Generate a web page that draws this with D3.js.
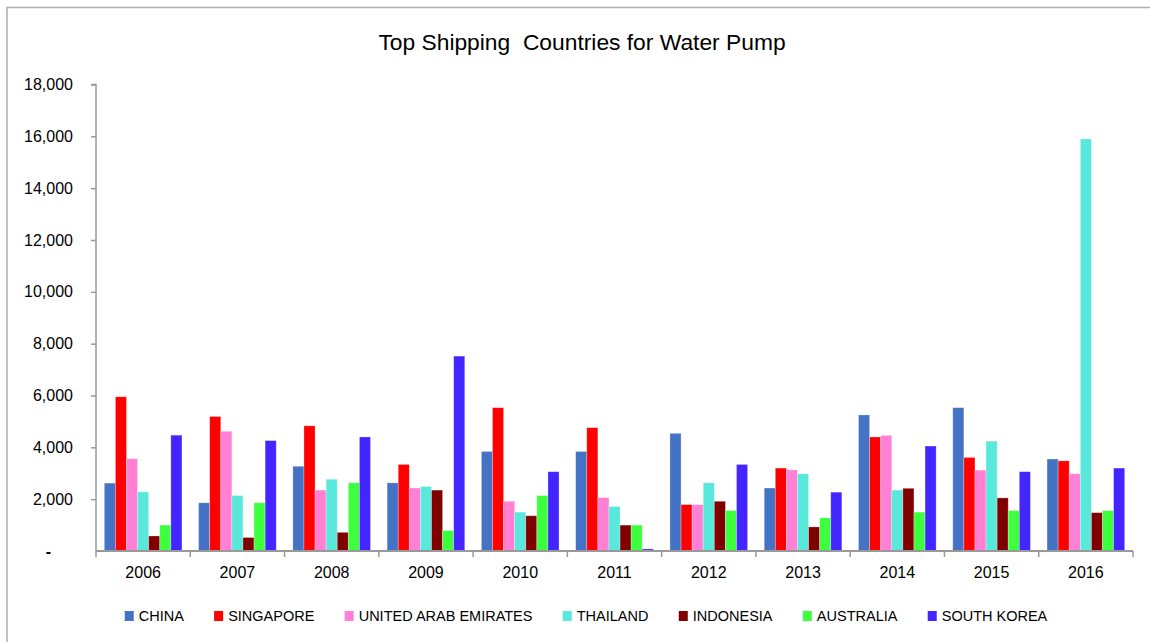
<!DOCTYPE html>
<html>
<head>
<meta charset="utf-8">
<script src="https://cdn.jsdelivr.net/npm/d3@7"></script>
<style>
  html, body { margin: 0; padding: 0; background: #fff; }
  svg { display: block; }
  text { font-family: "Liberation Sans", Arial, sans-serif; fill: #000; }
</style>
</head>
<body>
<svg id="chart" width="1150" height="642"></svg>
<script>
const years = ["2006","2007","2008","2009","2010","2011","2012","2013","2014","2015","2016"];
const seriesNames = ["CHINA","SINGAPORE","UNITED ARAB EMIRATES","THAILAND","INDONESIA","AUSTRALIA","SOUTH KOREA"];
const seriesColors = ["#4472C4","#FF0000","#FF80D5","#58E8DC","#800000","#3DFF3D","#4326FF"];

const china      = [2620, 1860, 3270, 2630, 3840, 3840, 4540, 2430, 5250, 5530, 3550];
const singapore  = [5950, 5190, 4830, 3340, 5530, 4760, 1790, 3200, 4400, 3610, 3480];
const uae        = [3560, 4620, 2350, 2430, 1920, 2060, 1790, 3130, 4460, 3120, 2980];
const thailand   = [2280, 2140, 2770, 2490, 1500, 1720, 2630, 2980, 2350, 4240, 15900];
const indonesia  = [580, 520, 720, 2350, 1360, 1000, 1920, 930, 2420, 2050, 1480];
const australia  = [1000, 1860, 2630, 790, 2140, 1000, 1560, 1280, 1500, 1560, 1560];
const southKorea = [4470, 4260, 4400, 7520, 3060, 80, 3340, 2270, 4050, 3060, 3200];

const seriesValues = [china, singapore, uae, thailand, indonesia, australia, southKorea];
const yTicks = [0, 2000, 4000, 6000, 8000, 10000, 12000, 14000, 16000, 18000];
const titleText = "Top Shipping\u00A0 Countries for Water Pump";

const svg = d3.select("#chart");

// frame (top and left edges)
svg.append("path").attr("d", "M7,1000 L7,7.5 L1150,7.5")
  .attr("fill", "none").attr("stroke", "#b0b0b0").attr("stroke-width", 1.5);

const x0 = d3.scaleBand().domain(years).range([96, 1133]).paddingInner(0).paddingOuter(0);
const x1 = d3.scaleBand().domain(seriesNames).range([0, x0.bandwidth()]).paddingInner(0).paddingOuter(0.75);
const y = d3.scaleLinear().domain([0, 18000]).range([551, 84.5]);

// title
svg.append("text").attr("x", 582).attr("y", 50).attr("text-anchor", "middle")
  .style("font-size", "22.8px").text(titleText);

// bars
const groups = svg.append("g").selectAll("g").data(years).join("g")
  .attr("transform", d => `translate(${x0(d)},0)`);
groups.selectAll("rect")
  .data((yr, i) => seriesNames.map((s, j) => ({ s, j, v: seriesValues[j][i] })))
  .join("rect")
  .attr("x", d => x1(d.s))
  .attr("width", x1.bandwidth())
  .attr("y", d => y(d.v))
  .attr("height", d => y(0) - y(d.v))
  .attr("fill", (d) => seriesColors[d.j])
  .attr("stroke", "#ffffff").attr("stroke-opacity", 0.35).attr("stroke-width", 0.8);

// y axis
const yAxis = d3.axisLeft(y).tickValues(yTicks).tickSize(5).tickPadding(18)
  .tickFormat(d => d === 0 ? "-" : d3.format(",")(d));
const yg = svg.append("g").attr("transform", "translate(96,0)").call(yAxis);
yg.select(".domain").attr("stroke", "#999").attr("stroke-width", 1.5).attr("d", "M-5,84.5H0V551");
yg.selectAll(".tick line").attr("stroke", "#999").attr("stroke-width", 1.5);
yg.selectAll(".tick text").style("font-size", "16px").attr("dx", "0");
yg.selectAll(".tick").filter(d => d === 0).select("text").attr("dx", "-22").style("font-weight", "bold");
yg.selectAll(".tick").filter(d => d === 0).select("line").remove();

// x axis
const xAxis = d3.axisBottom(x0).tickSize(0).tickPadding(16);
const xg = svg.append("g").attr("transform", "translate(0,551)").call(xAxis);
xg.select(".domain").attr("stroke", "#999").attr("stroke-width", 1.8).attr("d", "M96,0H1133");
xg.selectAll(".tick text").style("font-size", "16px");
// category boundary ticks
const bounds = years.map(d => x0(d)).concat([x0.range()[1]]);
svg.append("g").selectAll("line").data(bounds).join("line")
  .attr("x1", d => d).attr("x2", d => d).attr("y1", 551).attr("y2", 557)
  .attr("stroke", "#999").attr("stroke-width", 1.5);

// legend
const lg = svg.append("g");
let cx = 0;
const gap = 30.3;
seriesNames.forEach((name, i) => {
  const g = lg.append("g");
  g.append("rect").attr("x", 0).attr("y", -10).attr("width", 9).attr("height", 10).attr("fill", seriesColors[i]);
  const t = g.append("text").attr("x", 14).attr("y", 0).style("font-size", "14.5px").text(name);
  const w = t.node().getComputedTextLength();
  g.attr("transform", `translate(${cx},0)`);
  cx += 14 + w + gap;
});
const totalW = cx - gap;
lg.attr("transform", `translate(${586 - totalW / 2},621)`);
</script>
</body>
</html>
